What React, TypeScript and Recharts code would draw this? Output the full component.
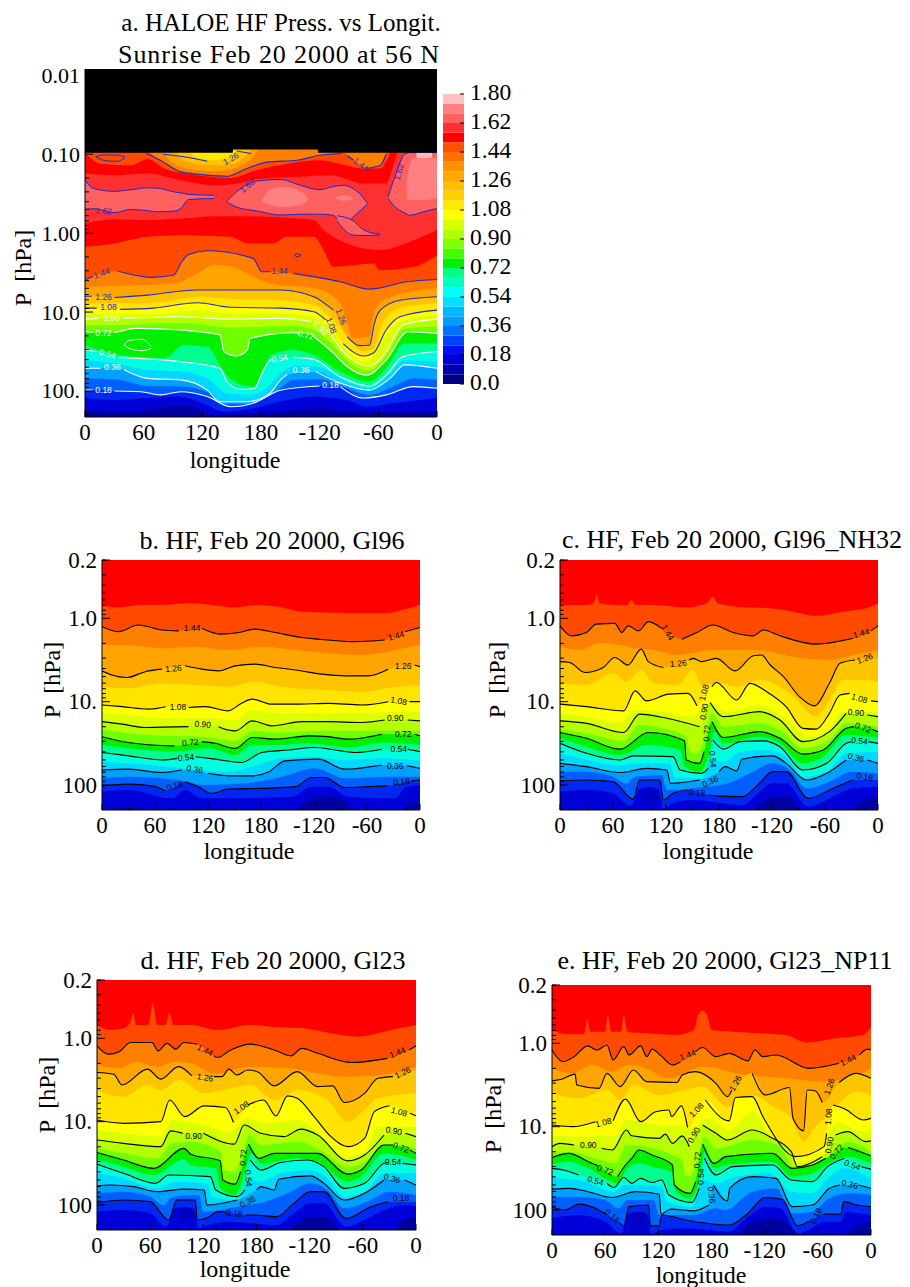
import React from 'react';
import { Area, Bar, BarChart, ComposedChart, Line, XAxis, YAxis } from 'recharts';

type Pt = [number, number | null];
type Blob = [number, number, number];
type Tag = [string, number, number, number];

// every series is [longitude, log10(pressure in hPa)]; null leaves a gap for a contour label

// ---- panel a: HALOE ----
const aBlack: Pt[] = [[0, -1.02], [151, -1.02], [151.5, -1.06], [238, -1.06], [238.5, -1.02], [360, -1.02]];
const aTop156: Pt[] = [[0, -.755], [30, -.734], [64, -.755], [98, -.67], [132, -.607], [156, -.63], [179, -.69], [217, -.713], [251, -.734], [285, -.63], [308, -.63], [317, -.924], [322, -1.08], [360, -1.08]];
const aTop150: Pt[] = [[0, -1.02], [16, -.88], [47, -.86], [64, -.94], [81, -.82], [115, -.734], [149, -.7], [176, -.8], [207, -.88], [240, -.924], [260, -.88], [285, -.82], [302, -.82], [310, -.96], [315, -1.08], [360, -1.08]];
const aTop144: Pt[] = [[0, -1.08], [61, -1.04], [77, -.924], [98, -.776], [121, -.74], [145, -.72], [162, -.8], [186, -.9], [217, -.924], [240, -.987], [264, -1.02], [275, -.924], [288, -.82], [302, -.86], [310, -1.04], [360, -1.08]];
const aTopLine144: Pt[] = [[63, -1.01], [77, -.924], [98, -.776], [121, -.74], [145, -.72], [162, -.8], [186, -.9], [217, -.924], [240, -.987], [262, -1.01]];
const aTopLine144b: Pt[] = [[268, -.98], [275, -.924], [282, null], [288, -.82], [302, -.86], [308, -1.0]];
const aTop135: Pt[] = [[0, -1.08], [77, -1.08], [88, -.9], [105, -.82], [132, -.785], [152, -.82], [172, -.966], [180, -1.08], [360, -1.08]];
const aTop126: Pt[] = [[0, -1.08], [90, -1.08], [100, -.924], [132, -.86], [152, -.88], [165, -.987], [172, -1.08], [360, -1.08]];
const aTop117: Pt[] = [[0, -1.08], [105, -1.08], [112, -.966], [132, -.924], [149, -.966], [158, -1.08], [360, -1.08]];
const aTopLine126: Pt[] = [[80, -1.0], [110, -.95], [125, -.91], [149, null], [155, -1.04], [170, -1.01]];
const aBlobLeft: Blob[] = [[0, -.67, -.3], [9, -.565, -.31], [30, -.53, -.26], [47, -.55, -.3], [64, -.574, -.285], [74, -.57, -.27], [91, -.523, -.28], [98, -.51, -.312], [106, -.49, -.426], [132, -.48, -.44]];
const aBlobMid: Blob[] = [[144.5, -.4, -.4], [155, -.523, -.33], [176, -.66, -.28], [200, -.68, -.23], [220, -.607, -.24], [240, -.55, -.24], [254, -.59, -.227], [264, -.607, -.1], [274, -.565, -.2], [281, -.5, -.28], [289, -.375, -.37]];
const aBlobTail: Blob[] = [[258, -.22, -.15], [274, -.16, .025], [285, -.04, .03], [302, .015, .025]];
const aBlobRight: Blob[] = [[310, -.46, -.44], [317, -.713, -.333], [327, -1.0, -.257], [332, -1.02, -.227], [346, -1.02, -.27], [360, -1.02, -.312]];
const aLightMid: Blob[] = [[181, -.42, -.4], [190, -.56, -.35], [205, -.586, -.33], [222, -.52, -.37], [228, -.44, -.42]];
const aLightMid2: Blob[] = [[256, -.45, -.44], [265, -.48, -.41], [274, -.45, -.43]];
const aLightRight: Blob[] = [[329, -.7, -.43], [336, -.95, -.42], [346, -.95, -.42], [360, -.95, -.45]];
const aPaleRight: Blob[] = [[339, -1.02, -.96], [345, -1.02, -.95], [355, -1.02, -.96]];
const aLoop162: Blob[] = [[11, -.97, -.97], [20, -.99, -.92], [32, -.99, -.91], [41, -.965, -.95]];
const aLoop144: Blob[] = [[214, .28, .28], [217, .26, .3], [221, .28, .28]];
const aLoop072: Blob[] = [[40, 1.42, 1.42], [45, 1.36, 1.46], [58, 1.345, 1.49], [68, 1.44, 1.46]];

const aLow156: Pt[] = [[0, -.122], [30, -.173], [64, -.164], [98, -.185], [132, -.215], [166, -.215], [200, -.198], [234, -.164], [244, -.04], [268, .13], [302, .215], [336, .09], [360, -.04]];
const a150: Pt[] = [[0, .173], [30, .13], [64, .047], [98, .026], [149, .047], [166, .13], [193, .13], [206, .047], [234, .047], [244, .215], [254, .427], [295, .384], [302, .47], [336, .427], [360, .279]];
const a144: Pt[] = [[0, .59], [8, .55], [17, null], [33, .48], [50, .53], [67, .56], [91, .53], [98, .38], [106, .27], [125, .224], [172, .32], [181, .49], [190, .49], [199, null], [213, .51], [261, .617], [291, .71], [329, .617], [360, .587]];
const a135: Pt[] = [[0, .68], [47, .66], [91, .637], [115, .51], [132, .405], [155, .447], [172, .553], [189, .637], [234, .7], [261, .89], [268, 1.14], [274, 1.333], [291, 1.31], [295, 1.02], [308, .83], [360, .7]];
const a126: Pt[] = [[0, .8], [7, .8], [19, null], [30, .815], [64, .785], [115, .72], [159, .72], [200, .72], [234, .806], [254, .975], [262, null], [268, 1.31], [281, 1.426], [291, 1.42], [296, 1.14], [302, .975], [322, .85], [360, .806]];
const a117: Pt[] = [[0, .89], [36, .89], [81, .87], [115, .806], [149, .83], [200, .85], [234, .91], [251, 1.06], [266, 1.27], [285, 1.5], [295, 1.46], [305, 1.12], [322, .95], [360, .89]];
const a108: Pt[] = [[0, .95], [12, .95], [24, null], [36, .966], [70, .95], [115, .882], [149, .94], [200, .95], [234, .996], [246, 1.1], [252, null], [264, 1.4], [285, 1.557], [295, 1.52], [308, 1.228], [322, 1.06], [360, .975]];
const a099: Pt[] = [[0, 1.02], [36, 1.02], [70, 1.03], [115, .975], [149, 1.02], [200, 1.02], [234, 1.06], [251, 1.207], [264, 1.44], [288, 1.63], [302, 1.4], [322, 1.12], [360, 1.04]];
const a090: Pt[] = [[0, 1.09], [14, 1.08], [27, null], [40, 1.08], [98, 1.06], [149, 1.09], [200, 1.08], [232, 1.12], [241, null], [251, 1.29], [264, 1.5], [291, 1.684], [308, 1.5], [325, 1.165], [360, 1.09]];
const a081: Pt[] = [[0, 1.165], [36, 1.165], [98, 1.14], [149, 1.195], [213, 1.177], [234, 1.228], [254, 1.42], [268, 1.61], [290, 1.743], [308, 1.557], [327, 1.207], [360, 1.186]];
const a072: Pt[] = [[0, 1.25], [8, 1.26], [19, null], [30, 1.262], [53, 1.207], [98, 1.228], [138, 1.29], [142, 1.5], [155, 1.557], [166, 1.48], [169, 1.333], [213, 1.262], [220, 1.27], [226, null], [234, 1.31], [254, 1.52], [268, 1.69], [288, 1.8], [308, 1.61], [330, 1.25], [360, 1.27]];
const a063: Pt[] = [[0, 1.42], [36, 1.545], [81, 1.585], [101, 1.42], [125, 1.44], [140, 1.713], [150, 1.86], [172, 1.945], [180, 1.84], [190, 1.545], [213, 1.48], [234, 1.545], [261, 1.755], [291, 1.88], [308, 1.713], [327, 1.4], [360, 1.4]];
const a054: Pt[] = [[0, 1.48], [12, 1.5], [23, null], [34, 1.575], [98, 1.63], [138, 1.713], [145, 1.88], [159, 1.98], [174, 1.965], [178, 1.86], [189, 1.61], [192, 1.6], [199, null], [213, 1.575], [234, 1.6], [261, 1.82], [291, 1.937], [308, 1.8], [325, 1.565], [360, 1.5]];
const a045: Pt[] = [[0, 1.61], [30, 1.65], [64, 1.735], [104, 1.755], [128, 1.86], [145, 2.03], [169, 2.05], [189, 1.925], [200, 1.775], [217, 1.684], [240, 1.7], [264, 1.86], [291, 1.965], [312, 1.775], [327, 1.61], [360, 1.63]];
const a036: Pt[] = [[0, 1.713], [16, 1.713], [28, null], [40, 1.73], [64, 1.84], [98, 1.86], [125, 1.99], [138, 2.135], [166, 2.135], [189, 2.03], [200, 1.86], [207, 1.79], [221, null], [236, 1.755], [261, 1.9], [291, 1.99], [312, 1.84], [327, 1.67], [360, 1.713]];
const a027: Pt[] = [[0, 1.84], [36, 1.86], [64, 1.937], [98, 1.945], [128, 2.03], [142, 2.165], [166, 2.165], [193, 2.03], [213, 1.86], [240, 1.85], [264, 1.945], [291, 2.05], [315, 1.945], [336, 1.84], [360, 1.86]];
const a018: Pt[] = [[0, 1.99], [8, 1.99], [19, null], [30, 2.0], [57, 2.01], [77, 2.05], [98, 2.01], [125, 2.07], [149, 2.2], [172, 2.155], [200, 1.99], [240, 1.937], [251, null], [261, 1.945], [285, 2.09], [308, 2.05], [336, 1.945], [360, 1.965]];
const a009: Pt[] = [[0, 2.09], [30, 2.115], [64, 2.09], [94, 2.07], [121, 2.155], [142, 2.26], [172, 2.22], [200, 2.135], [234, 2.07], [268, 2.115], [288, 2.2], [315, 2.155], [360, 2.09]];
const a003: Pt[] = [[0, 2.24], [47, 2.26], [98, 2.18], [111, 2.2], [125, 2.3], [183, 2.28], [240, 2.22], [268, 2.26], [360, 2.26]];
const aTags: Tag[] = [
  ['1.26', 149, -.945, -30], ['1.44', 282, -.87, 40], ['1.62', 166, -.6, -40], ['1.62', 321, -.776, -75], ['1.62', 19, -.28, 5],
  ['1.44', 17, .51, -20], ['1.44', 199, .48, 0], ['1.26', 19, .806, 0], ['1.08', 24, .94, 0], ['0.90', 27, 1.075, 0],
  ['0.72', 19, 1.26, 0], ['0.54', 23, 1.53, 15], ['0.36', 28, 1.7, 0], ['0.18', 19, 1.99, 0], ['0.54', 199, 1.585, -10],
  ['0.72', 226, 1.29, 15], ['0.90', 241, 1.2, 45], ['1.08', 252, 1.17, 70], ['1.26', 262, 1.06, 70], ['0.36', 221, 1.735, 0], ['0.18', 251, 1.925, 0],
];

// ---- panel b: Gl96 ----
const b150: Pt[] = [[0, -.16], [19, -.13], [41, -.16], [68, -.16], [98, -.18], [124, -.16], [151, -.13], [173, -.16], [200, -.14], [226, -.08], [256, -.07], [294, -.06], [320, -.06], [343, -.11], [360, -.16]];
const b144: Pt[] = [[0, .1], [19, .16], [41, .08], [68, .14], [87, .15], [102, null], [113, .12], [134, .19], [155, .17], [173, .13], [196, .17], [226, .23], [256, .26], [287, .28], [320, .26], [333, null], [343, .16], [360, .11]];
const b135: Pt[] = [[0, .32], [30, .32], [68, .36], [106, .34], [143, .38], [181, .34], [219, .38], [256, .42], [294, .44], [332, .38], [360, .32]];
const b126: Pt[] = [[0, .63], [11, .68], [28, .71], [49, .64], [68, .61], [81, null], [94, .57], [113, .61], [132, .63], [151, .57], [173, .55], [196, .59], [219, .62], [249, .67], [275, .69], [301, .69], [324, .61], [341, null], [354, .56], [360, .58]];
const b117: Pt[] = [[0, .82], [30, .84], [68, .78], [106, .8], [143, .82], [173, .76], [204, .82], [256, .86], [294, .88], [332, .82], [360, .8]];
const b108: Pt[] = [[0, 1.04], [23, 1.06], [53, 1.09], [72, 1.06], [86, null], [98, 1.07], [117, 1.06], [143, 1.11], [158, 1.02], [170, .97], [192, 1.03], [219, 1.03], [256, 1.02], [294, 1.04], [324, 1.0], [336, null], [348, 1.0], [360, 1.0]];
const b099: Pt[] = [[0, 1.14], [30, 1.16], [68, 1.2], [113, 1.2], [151, 1.22], [170, 1.1], [200, 1.14], [256, 1.14], [320, 1.13], [360, 1.12]];
const b090: Pt[] = [[0, 1.24], [23, 1.27], [49, 1.31], [98, 1.3], [114, null], [132, 1.3], [143, 1.34], [151, 1.35], [170, 1.23], [192, 1.29], [226, 1.24], [256, 1.24], [294, 1.25], [320, 1.22], [332, null], [346, 1.22], [360, 1.23]];
const b081: Pt[] = [[0, 1.33], [30, 1.38], [68, 1.41], [113, 1.42], [151, 1.47], [172, 1.35], [196, 1.37], [256, 1.35], [320, 1.35], [360, 1.35]];
const b072: Pt[] = [[0, 1.42], [30, 1.49], [57, 1.52], [82, 1.53], [100, null], [113, 1.48], [128, 1.5], [151, 1.56], [170, 1.43], [196, 1.45], [234, 1.41], [256, 1.42], [279, 1.45], [317, 1.39], [341, null], [354, 1.39], [360, 1.41]];
const b063: Pt[] = [[0, 1.52], [30, 1.56], [81, 1.6], [121, 1.56], [151, 1.64], [170, 1.52], [200, 1.52], [234, 1.5], [279, 1.55], [320, 1.49], [360, 1.52]];
const b054: Pt[] = [[0, 1.61], [30, 1.65], [68, 1.7], [85, 1.68], [95, null], [106, 1.66], [128, 1.69], [158, 1.73], [181, 1.61], [211, 1.58], [241, 1.55], [264, 1.58], [286, 1.61], [317, 1.57], [336, null], [346, 1.57], [360, 1.6]];
const b045: Pt[] = [[0, 1.72], [30, 1.74], [75, 1.78], [143, 1.84], [170, 1.78], [204, 1.68], [241, 1.66], [275, 1.7], [317, 1.68], [360, 1.71]];
const b036: Pt[] = [[0, 1.82], [30, 1.81], [68, 1.85], [90, 1.82], [105, null], [120, 1.86], [143, 1.89], [170, 1.89], [189, 1.84], [207, 1.71], [245, 1.69], [275, 1.81], [317, 1.76], [332, null], [345, 1.77], [360, 1.8]];
const b027: Pt[] = [[0, 1.92], [30, 1.9], [87, 1.94], [117, 2.0], [162, 1.98], [204, 1.9], [241, 1.8], [275, 1.92], [320, 1.9], [360, 1.9]];
const b018: Pt[] = [[0, 2.01], [30, 1.99], [56, 2.01], [72, 2.07], [82, null], [94, 1.96], [109, 2.02], [124, 2.1], [143, 2.05], [181, 2.04], [219, 2.02], [237, 1.91], [252, 1.91], [275, 2.03], [301, 2.02], [324, 2.01], [339, null], [350, 1.95], [360, 1.94]];
const b009: Pt[] = [[0, 2.08], [30, 2.06], [79, 2.16], [94, 2.06], [113, 2.16], [143, 2.16], [215, 2.14], [237, 2.02], [256, 2.02], [279, 2.14], [332, 2.16], [343, 2.03], [360, 2.0]];
const b003: Pt[] = [[0, 2.3], [30, 2.26], [60, 2.3], [220, 2.3], [230, 2.2], [250, 2.14], [270, 2.16], [285, 2.3], [340, 2.3], [348, 2.22], [360, 2.2]];
const bTags: Tag[] = [
  ['1.44', 102, .11, 0], ['1.44', 333, .21, -15], ['1.26', 81, .6, -5], ['1.26', 341, .57, 0], ['1.08', 86, 1.06, 0], ['1.08', 336, .99, 10],
  ['0.90', 114, 1.27, 5], ['0.90', 332, 1.2, 0], ['0.72', 100, 1.49, -5], ['0.72', 341, 1.39, 0], ['0.54', 95, 1.67, -5], ['0.54', 336, 1.57, 0],
  ['0.36', 105, 1.81, 10], ['0.36', 332, 1.77, 0], ['0.18', 82, 2.01, -15], ['0.18', 339, 1.96, -5],
];

// ---- panel c: Gl96_NH32 ----
const c150: Pt[] = [[0, -.16], [30, -.16], [38, -.18], [41.5, -.28], [45, -.18], [64, -.16], [76, -.16], [81, -.22], [85, -.16], [106, -.16], [143, -.13], [166, -.18], [173, -.26], [179, -.18], [200, -.14], [238, -.12], [264, -.08], [290, -.03], [320, -.08], [347, -.12], [360, -.18]];
const c144: Pt[] = [[0, .09], [13, .21], [30, .17], [41, .07], [62, .06], [70, .17], [77, .09], [89, .15], [100, .04], [115, .12], [122, null], [138, .25], [155, .17], [173, .08], [196, .17], [219, .21], [230, .14], [249, .21], [290, .31], [332, .24], [341, null], [352, .15], [360, .09]];
const c135: Pt[] = [[0, .34], [23, .38], [45, .3], [68, .32], [85, .36], [106, .38], [132, .44], [173, .38], [219, .38], [275, .48], [305, .5], [332, .44], [360, .38]];
const c126: Pt[] = [[0, .52], [11, .53], [28, .65], [49, .59], [62, .47], [77, .56], [92, .37], [100, .52], [117, .59], [124, null], [146, .5], [151, .48], [160, .52], [177, .48], [198, .63], [219, .45], [228, .44], [238, .56], [253, .7], [271, .94], [288, 1.05], [305, .78], [317, .54], [334, .5], [345, null], [360, .48]];
const c117: Pt[] = [[0, .78], [30, .8], [60, .66], [75, .76], [92, .62], [106, .78], [132, .8], [151, .62], [160, .8], [181, .78], [200, .82], [226, .74], [260, .9], [290, 1.18], [305, .98], [320, .74], [345, .74], [360, .76]];
const c108: Pt[] = [[0, 1.03], [30, 1.06], [72, 1.11], [85, .87], [98, .99], [123, .91], [145, .9], [155, 1.05], [159, null], [172, .82], [177, .77], [200, .98], [215, .78], [234, .88], [256, 1.06], [275, 1.32], [290, 1.33], [305, 1.14], [317, .92], [328, .9], [339, null], [352, .99], [360, 1.0]];
const c099: Pt[] = [[0, 1.14], [30, 1.18], [68, 1.26], [85, 1.1], [117, 1.12], [151, 1.18], [166, 1.02], [190, 1.12], [226, 1.04], [256, 1.22], [283, 1.42], [305, 1.32], [320, 1.12], [360, 1.12]];
const c090: Pt[] = [[0, 1.23], [30, 1.26], [72, 1.37], [90, 1.15], [121, 1.2], [158, 1.3], [163, null], [170, 1.01], [185, 1.18], [226, 1.12], [249, 1.22], [275, 1.48], [305, 1.36], [324, 1.14], [335, null], [348, 1.16], [360, 1.18]];
const c081: Pt[] = [[0, 1.33], [30, 1.38], [72, 1.47], [90, 1.28], [121, 1.33], [143, 1.42], [147, 1.6], [155, 1.62], [165, 1.4], [172, 1.14], [185, 1.3], [226, 1.26], [249, 1.34], [275, 1.56], [305, 1.46], [324, 1.26], [360, 1.3]];
const c072: Pt[] = [[0, 1.37], [30, 1.44], [68, 1.57], [100, 1.37], [141, 1.47], [143, 1.7], [158, 1.74], [163, 1.6], [166, null], [172, 1.24], [185, 1.43], [226, 1.36], [249, 1.44], [275, 1.63], [298, 1.58], [324, 1.32], [333, 1.3], [343, null], [353, 1.33], [360, 1.36]];
const c063: Pt[] = [[0, 1.44], [30, 1.54], [68, 1.64], [98, 1.52], [136, 1.58], [141, 1.78], [158, 1.84], [170, 1.58], [175, 1.36], [185, 1.5], [226, 1.42], [249, 1.5], [275, 1.74], [298, 1.66], [324, 1.4], [360, 1.44]];
const c054: Pt[] = [[0, 1.5], [30, 1.62], [68, 1.7], [83, 1.65], [128, 1.66], [136, 1.82], [160, 1.86], [168, 1.8], [170, null], [173, 1.46], [185, 1.57], [204, 1.48], [230, 1.47], [249, 1.54], [275, 1.82], [302, 1.74], [324, 1.5], [330, 1.48], [339, null], [349, 1.48], [360, 1.5]];
const c045: Pt[] = [[0, 1.62], [30, 1.7], [68, 1.76], [90, 1.74], [124, 1.74], [130, 1.9], [160, 1.92], [172, 1.7], [185, 1.72], [204, 1.6], [234, 1.58], [256, 1.66], [275, 1.9], [302, 1.84], [324, 1.62], [360, 1.6]];
const c036: Pt[] = [[0, 1.74], [30, 1.78], [68, 1.85], [98, 1.8], [121, 1.82], [125, 1.98], [158, 1.94], [168, null], [180, 1.84], [187, 1.78], [200, 1.83], [206, 1.69], [241, 1.65], [256, 1.74], [279, 1.94], [305, 1.84], [324, 1.7], [335, null], [348, 1.7], [360, 1.74]];
const c027: Pt[] = [[0, 1.84], [30, 1.84], [60, 1.9], [75, 1.98], [85, 1.9], [115, 1.88], [121, 2.06], [158, 2.03], [190, 1.98], [215, 1.86], [241, 1.74], [260, 1.82], [279, 2.04], [305, 1.96], [330, 1.84], [360, 1.86]];
const c018: Pt[] = [[0, 1.95], [30, 1.94], [60, 1.96], [83, 2.17], [90, 1.94], [113, 1.94], [117, 2.18], [128, 2.1], [145, 2.06], [155, null], [168, 2.12], [177, 2.13], [207, 2.14], [222, 2.02], [241, 1.84], [256, 1.84], [281, 2.16], [309, 2.04], [332, 1.94], [345, null], [360, 1.94]];
const c009: Pt[] = [[0, 2.08], [30, 2.06], [60, 2.1], [80, 2.25], [90, 2.05], [100, 2.02], [112, 2.05], [117, 2.28], [128, 2.22], [150, 2.18], [207, 2.24], [222, 2.12], [241, 1.98], [256, 1.98], [281, 2.26], [309, 2.14], [332, 2.04], [360, 2.02]];
const c003: Pt[] = [[0, 2.3], [215, 2.3], [225, 2.24], [240, 2.14], [258, 2.14], [275, 2.3], [330, 2.3], [340, 2.2], [360, 2.14]];
const cPatch: Blob[] = [[92, 2.1, 2.16], [98, 2.06, 2.2], [108, 2.06, 2.2], [112, 2.12, 2.16]];
const cTags: Tag[] = [
  ['1.44', 122, .17, 60], ['1.44', 341, .18, -15], ['1.26', 134, .54, -5], ['1.26', 345, .48, -20], ['1.08', 163, .89, -75], ['1.08', 339, .96, 15],
  ['0.90', 163, 1.12, -80], ['0.90', 335, 1.13, 5], ['0.72', 166, 1.38, -85], ['0.72', 343, 1.31, 20], ['0.54', 173, 1.69, 85], ['0.54', 339, 1.47, 5],
  ['0.36', 170, 1.96, -25], ['0.36', 335, 1.67, 15], ['0.18', 155, 2.09, 5], ['0.18', 345, 1.9, 10],
];

// ---- panel d: Gl23 ----
const d150: Pt[] = [[0, -.16], [15, -.1], [30, -.12], [37, -.18], [41, -.3], [44, -.16], [58, -.16], [63, -.42], [68, -.16], [77, -.16], [82, -.3], [86, -.16], [106, -.16], [136, -.1], [173, -.16], [196, -.14], [234, -.12], [264, -.06], [294, -.02], [332, -.1], [360, -.16]];
const d144: Pt[] = [[0, .09], [13, .19], [25, .16], [38, .05], [62, .05], [69, .15], [79, .06], [89, .13], [98, .05], [113, .07], [122, null], [132, .21], [136, .23], [151, .14], [173, .07], [200, .14], [219, .21], [231, .12], [249, .18], [287, .29], [328, .24], [339, null], [352, .14], [360, .09]];
const d135: Pt[] = [[0, .32], [23, .36], [45, .28], [68, .34], [90, .28], [106, .3], [132, .42], [173, .34], [215, .36], [279, .46], [320, .44], [360, .34]];
const d126: Pt[] = [[0, .41], [19, .43], [28, .56], [57, .37], [72, .49], [92, .34], [107, .45], [114, null], [132, .46], [141, .46], [149, .37], [158, .44], [170, .38], [181, .4], [200, .57], [226, .4], [249, .58], [266, .57], [279, .77], [302, .66], [317, .48], [334, .46], [345, null], [360, .38]];
const d117: Pt[] = [[0, .62], [30, .7], [57, .56], [72, .62], [92, .5], [121, .66], [151, .6], [173, .56], [200, .74], [226, .62], [260, .74], [283, 1.0], [302, .86], [317, .72], [360, .66]];
const d108: Pt[] = [[0, .98], [30, 1.02], [72, 1.0], [82, .74], [99, .94], [121, .81], [145, .83], [154, 1.01], [158, null], [170, .8], [188, .74], [202, .93], [215, .69], [226, .72], [245, .94], [264, 1.18], [283, 1.3], [302, 1.2], [313, .88], [330, .81], [341, null], [353, .9], [360, .93]];
const d099: Pt[] = [[0, 1.1], [30, 1.14], [72, 1.18], [85, .98], [121, 1.04], [150, 1.12], [170, .96], [190, 1.02], [226, .98], [250, 1.14], [280, 1.42], [302, 1.36], [317, 1.06], [360, 1.06]];
const d090: Pt[] = [[0, 1.22], [30, 1.26], [72, 1.3], [83, 1.11], [97, 1.14], [109, null], [120, 1.14], [155, 1.27], [166, 1.04], [185, 1.14], [211, 1.18], [230, 1.09], [249, 1.16], [283, 1.47], [302, 1.4], [324, 1.16], [335, null], [348, 1.14], [360, 1.18]];
const d081: Pt[] = [[0, 1.32], [30, 1.38], [68, 1.44], [85, 1.26], [106, 1.24], [140, 1.36], [143, 1.58], [155, 1.6], [165, 1.36], [172, 1.16], [185, 1.28], [226, 1.24], [249, 1.32], [283, 1.54], [302, 1.48], [324, 1.28], [360, 1.32]];
const d072: Pt[] = [[0, 1.37], [30, 1.46], [64, 1.56], [98, 1.32], [106, 1.39], [139, 1.47], [142, 1.7], [156, 1.75], [162, 1.6], [165, null], [171, 1.27], [183, 1.44], [200, 1.38], [249, 1.38], [283, 1.63], [298, 1.58], [324, 1.28], [334, 1.28], [343, null], [353, 1.34], [360, 1.38]];
const d063: Pt[] = [[0, 1.45], [30, 1.54], [64, 1.64], [98, 1.45], [106, 1.52], [134, 1.56], [139, 1.8], [156, 1.88], [168, 1.56], [174, 1.38], [185, 1.5], [226, 1.44], [249, 1.48], [283, 1.72], [298, 1.66], [324, 1.38], [360, 1.46]];
const d054: Pt[] = [[0, 1.51], [30, 1.62], [66, 1.74], [81, 1.64], [128, 1.66], [134, 1.82], [158, 1.9], [167, 1.82], [170, null], [173, 1.46], [185, 1.58], [207, 1.49], [238, 1.46], [256, 1.54], [279, 1.8], [302, 1.74], [324, 1.5], [329, 1.49], [334, null], [345, 1.5], [360, 1.52]];
const d045: Pt[] = [[0, 1.62], [30, 1.68], [66, 1.8], [90, 1.72], [124, 1.74], [130, 1.9], [158, 1.94], [172, 1.7], [185, 1.72], [207, 1.62], [241, 1.58], [260, 1.68], [279, 1.9], [302, 1.84], [324, 1.62], [360, 1.62]];
const d036: Pt[] = [[0, 1.77], [15, 1.76], [41, 1.78], [68, 1.84], [98, 1.81], [121, 1.82], [124, 2.0], [158, 1.94], [168, null], [180, 1.82], [185, 1.78], [200, 1.82], [205, 1.69], [241, 1.65], [256, 1.74], [279, 1.94], [305, 1.84], [324, 1.7], [333, null], [347, 1.7], [360, 1.76]];
const d027: Pt[] = [[0, 1.86], [30, 1.84], [60, 1.9], [75, 2.0], [85, 1.9], [115, 1.88], [120, 2.08], [158, 2.02], [190, 1.96], [215, 1.86], [241, 1.74], [260, 1.82], [279, 2.04], [305, 1.96], [330, 1.84], [360, 1.88]];
const d018: Pt[] = [[0, 1.97], [30, 1.94], [60, 1.96], [81, 2.18], [90, 1.94], [111, 1.94], [113, 2.18], [123, 2.16], [137, 2.08], [145, 2.08], [155, null], [168, 2.12], [177, 2.12], [203, 2.14], [222, 1.98], [241, 1.84], [256, 1.84], [281, 2.16], [309, 2.02], [328, 1.96], [343, null], [360, 1.96]];
const d009: Pt[] = [[0, 2.08], [30, 2.06], [60, 2.1], [78, 2.26], [88, 2.04], [100, 2.02], [110, 2.06], [114, 2.28], [125, 2.24], [150, 2.2], [203, 2.24], [222, 2.1], [241, 1.98], [256, 1.98], [281, 2.26], [309, 2.14], [330, 2.04], [345, 2.0], [360, 2.02]];
const d003: Pt[] = [[0, 2.3], [215, 2.3], [225, 2.22], [240, 2.14], [258, 2.14], [275, 2.3], [335, 2.3], [345, 2.18], [360, 2.14]];
const dPatch: Blob[] = [[92, 2.08, 2.14], [98, 2.04, 2.18], [108, 2.04, 2.18]];
const dTags: Tag[] = [
  ['1.44', 122, .14, 25], ['1.44', 339, .17, -20], ['1.26', 122, .47, 10], ['1.26', 345, .41, -25], ['1.08', 163, .83, -35], ['1.08', 341, .88, 15],
  ['0.90', 109, 1.17, 0], ['0.90', 335, 1.11, 10], ['0.72', 165, 1.43, -85], ['0.72', 343, 1.31, 20], ['0.54', 171, 1.68, 85], ['0.54', 334, 1.48, 0],
  ['0.36', 170, 1.96, -25], ['0.36', 333, 1.68, 15], ['0.18', 155, 2.1, 5], ['0.18', 343, 1.92, 0],
];

// ---- panel e: Gl23_NP11 ----
const e150: Pt[] = [[0, -.16], [15, -.11], [36, -.11], [40, -.29], [43, -.14], [60, -.14], [63, -.33], [67, -.14], [78, -.14], [81, -.34], [85, -.14], [106, -.12], [139, -.1], [160, -.16], [165, -.34], [170, -.39], [175, -.34], [180, -.16], [204, -.14], [234, -.12], [264, -.1], [287, -.01], [320, -.06], [351, -.1], [360, -.2]];
const e144: Pt[] = [[0, .08], [12, .22], [25, .16], [40, .03], [51, .08], [62, .02], [69, .2], [81, .04], [87, .14], [100, .03], [107, .16], [113, .07], [122, .14], [136, .26], [145, .22], [153, null], [162, .1], [170, .05], [185, .16], [200, .12], [221, .21], [229, .08], [238, .16], [253, .14], [290, .3], [324, .24], [334, null], [347, .14], [356, .07], [360, .08]];
const e135: Pt[] = [[0, .3], [23, .36], [45, .26], [68, .34], [87, .26], [106, .3], [132, .42], [170, .28], [219, .38], [264, .42], [305, .46], [340, .4], [360, .3]];
const e126: Pt[] = [[0, .45], [11, .43], [26, .37], [28, .5], [53, .54], [62, .36], [77, .52], [92, .32], [107, .46], [141, .47], [147, .38], [162, .34], [185, .48], [198, .64], [203, .56], [207, null], [226, .36], [241, .62], [268, .53], [272, .9], [284, 1.05], [288, .56], [297, .57], [305, .71], [310, null], [324, .47], [343, .36], [360, .42]];
const e117: Pt[] = [[0, .6], [30, .66], [62, .56], [77, .68], [92, .5], [121, .62], [150, .56], [170, .52], [198, .76], [226, .62], [250, .76], [270, .9], [284, 1.18], [297, 1.0], [310, .88], [324, .72], [343, .58], [360, .62]];
const e108: Pt[] = [[0, .98], [23, 1.0], [49, .94], [58, null], [69, .93], [83, .67], [100, .94], [117, .82], [132, .8], [135, .88], [146, .75], [153, 1.01], [157, null], [173, .68], [200, .93], [207, .65], [226, .64], [238, .88], [275, 1.36], [307, 1.24], [310, 1.08], [313, null], [317, .74], [324, .76], [331, .79], [351, .92], [360, .9]];
const e099: Pt[] = [[0, 1.1], [30, 1.12], [73, 1.1], [83, .92], [121, .98], [150, 1.0], [160, 1.02], [175, .9], [200, 1.04], [226, .82], [245, 1.1], [275, 1.42], [307, 1.34], [313, 1.06], [324, .96], [351, 1.06], [360, 1.04]];
const e090: Pt[] = [[0, 1.24], [9, 1.2], [25, 1.22], [41, null], [56, 1.26], [68, 1.28], [84, 1.04], [90, 1.11], [121, 1.14], [128, 1.09], [136, 1.2], [147, 1.11], [155, 1.24], [161, null], [170, .98], [185, 1.08], [198, 1.16], [226, 1.04], [249, 1.14], [270, 1.3], [277, 1.48], [305, 1.36], [313, null], [320, 1.1], [334, 1.06], [354, 1.18], [360, 1.17]];
const e081: Pt[] = [[0, 1.32], [20, 1.3], [56, 1.4], [72, 1.44], [84, 1.22], [121, 1.28], [136, 1.34], [147, 1.4], [150, 1.56], [155, 1.6], [165, 1.36], [172, 1.12], [185, 1.26], [226, 1.16], [255, 1.22], [277, 1.54], [305, 1.46], [320, 1.26], [334, 1.18], [360, 1.3]];
const e072: Pt[] = [[0, 1.37], [19, 1.32], [41, 1.42], [52, 1.47], [60, null], [74, 1.6], [83, 1.46], [90, 1.38], [98, 1.28], [113, 1.34], [136, 1.46], [138, 1.7], [156, 1.8], [162, 1.66], [165, null], [170, 1.21], [183, 1.44], [196, 1.36], [249, 1.32], [271, 1.5], [294, 1.46], [309, 1.38], [320, null], [334, 1.25], [360, 1.35]];
const e063: Pt[] = [[0, 1.45], [19, 1.42], [41, 1.5], [74, 1.68], [85, 1.5], [98, 1.44], [113, 1.48], [134, 1.54], [140, 1.78], [156, 1.86], [168, 1.56], [172, 1.3], [183, 1.5], [196, 1.46], [249, 1.42], [271, 1.6], [294, 1.56], [309, 1.46], [334, 1.36], [360, 1.44]];
const e054: Pt[] = [[0, 1.5], [13, 1.52], [30, 1.58], [49, null], [62, 1.68], [70, 1.73], [81, 1.61], [90, 1.68], [100, 1.62], [113, 1.67], [124, 1.64], [132, 1.82], [158, 1.91], [166, 1.74], [168, null], [172, 1.38], [185, 1.58], [204, 1.48], [249, 1.46], [270, 1.64], [294, 1.66], [311, 1.48], [330, 1.38], [339, null], [349, 1.48], [360, 1.51]];
const e045: Pt[] = [[0, 1.62], [30, 1.64], [70, 1.78], [81, 1.7], [100, 1.7], [124, 1.72], [130, 1.9], [158, 1.96], [170, 1.64], [185, 1.68], [207, 1.6], [245, 1.56], [270, 1.78], [294, 1.8], [311, 1.62], [330, 1.5], [360, 1.62]];
const e036: Pt[] = [[0, 1.75], [19, 1.74], [41, 1.78], [68, 1.85], [94, 1.78], [121, 1.81], [123, 2.05], [134, 1.99], [160, 2.01], [177, 1.94], [180, null], [182, 1.7], [198, 1.89], [200.5, 1.74], [226, 1.6], [253, 1.62], [271, 1.96], [294, 1.94], [313, 1.74], [325, 1.7], [336, null], [346, 1.7], [360, 1.74]];
const e027: Pt[] = [[0, 1.84], [30, 1.84], [60, 1.88], [75, 1.98], [85, 1.88], [115, 1.88], [121, 2.06], [160, 2.06], [185, 1.98], [195, 2.0], [226, 1.78], [253, 1.74], [271, 2.04], [294, 2.02], [313, 1.86], [336, 1.8], [360, 1.82]];
const e018: Pt[] = [[0, 1.96], [15, 2.0], [30, 1.93], [53, 2.0], [61, 2.05], [68, null], [76, 2.15], [81, 2.19], [87, 1.96], [109, 1.94], [111, 2.19], [121, 2.19], [124, 2.06], [151, 2.12], [200, 2.18], [219, 2.06], [241, 1.85], [260, 1.87], [277, 2.19], [291, 2.13], [298, null], [306, 2.05], [326, 2.05], [329, 1.9], [345, 1.94], [360, 1.96]];
const e009: Pt[] = [[0, 2.1], [30, 2.06], [60, 2.14], [78, 2.28], [86, 2.04], [100, 2.02], [108, 2.06], [112, 2.28], [125, 2.24], [150, 2.22], [200, 2.26], [219, 2.1], [241, 1.96], [258, 1.98], [277, 2.28], [310, 2.14], [326, 2.14], [332, 2.02], [345, 2.04], [360, 2.06]];
const e003: Pt[] = [[0, 2.3], [210, 2.3], [222, 2.16], [245, 2.1], [262, 2.14], [282, 2.3], [330, 2.3], [345, 2.18], [360, 2.14]];
const ePatch: Blob[] = [[90, 2.04, 2.16], [96, 2.02, 2.2], [106, 2.04, 2.2]];
const eTags: Tag[] = [
  ['1.44', 153, .14, -20], ['1.44', 334, .2, -25], ['1.26', 207, .48, -60], ['1.26', 313, .52, -70], ['1.08', 58, .95, -15], ['1.08', 163, .8, -45], ['1.08', 312, .88, -85],
  ['0.90', 41, 1.22, 0], ['0.90', 160, 1.1, -60], ['0.90', 313, 1.22, -80], ['0.72', 60, 1.52, 20], ['0.72', 164, 1.4, -85], ['0.72', 321, 1.3, -50],
  ['0.54', 49, 1.65, 15], ['0.54', 168, 1.6, -88], ['0.54', 339, 1.46, 20], ['0.36', 180, 1.82, 85], ['0.36', 336, 1.69, 15], ['0.18', 68, 2.07, 40], ['0.18', 298, 2.07, -65],
];

// colour of the region just below each boundary, same order as the panel lists
const bandColors = ['#ff4a00', '#ff8000', '#ffa400', '#ffc400', '#ffe400', '#ffff00', '#dcff00', '#b4ff00', '#70ff00', '#00f000', '#00ff90', '#00ffe0', '#00d8ff', '#00a0ff', '#0060ff', '#0028f0', '#0000d8', '#0000a0'];
const contourSlots = [1, 3, 5, 7, 9, 11, 13, 15];

const panelA = [a150, a144, a135, a126, a117, a108, a099, a090, a081, a072, a063, a054, a045, a036, a027, a018, a009, a003];
const panelB = [b150, b144, b135, b126, b117, b108, b099, b090, b081, b072, b063, b054, b045, b036, b027, b018, b009, b003];
const panelC = [c150, c144, c135, c126, c117, c108, c099, c090, c081, c072, c063, c054, c045, c036, c027, c018, c009, c003];
const panelD = [d150, d144, d135, d126, d117, d108, d099, d090, d081, d072, d063, d054, d045, d036, d027, d018, d009, d003];
const panelE = [e150, e144, e135, e126, e117, e108, e099, e090, e081, e072, e063, e054, e045, e036, e027, e018, e009, e003];

// colour bar
const scaleColors = ['#000080', '#0000a8', '#0000d0', '#0010f0', '#0040ff', '#0070ff', '#009cff', '#00b8ff', '#00e0ff', '#00ffff', '#00ffc0', '#00ff80', '#00f000', '#40ff00', '#80ff00', '#b0ff00', '#d8ff00', '#ffff00', '#ffe800', '#ffd000', '#ffc000', '#ffa800', '#ff9000', '#ff7000', '#ff5000', '#ff0000', '#ff3030', '#ff6060', '#ff8080', '#ffc0c0'];
const scaleTicks = [0, .18, .36, .54, .72, .9, 1.08, 1.26, 1.44, 1.62, 1.8];
const scaleLabels = ['0.0', '0.18', '0.36', '0.54', '0.72', '0.90', '1.08', '1.26', '1.44', '1.62', '1.80'];
const scaleRow: Record<string, number | string> = { name: 'HF' };
scaleColors.forEach((_, i) => { scaleRow[`s${i}`] = 0.06; });

const lonTicks = [0, 60, 120, 180, 240, 300, 360];
const lonLabels = ['0', '60', '120', '180', '-120', '-60', '0'];
const logMinor = [.301, .477, .602, .699, .778, .845, .903, .954];
const SERIF = '"Liberation Serif", serif';
const LEFT = 70;
const BLUE = '#1a2ac8';

const rows = (pts: Pt[]) => pts.map(([lon, logP]) => ({ lon, logP }));
const solid = (pts: Pt[]) => rows(pts.filter((p) => p[1] !== null));
const rangeRows = (pts: Blob[]) => pts.map(([lon, top, bottom]) => ({ lon, logP: [top, bottom] }));

const fill = (key: string, pts: Pt[], color: string, base: number, type: any = 'monotoneX') => (
  <Area key={key} data={solid(pts)} dataKey="logP" type={type} baseValue={base} fill={color} fillOpacity={1}
    stroke="none" dot={false} activeDot={false} isAnimationActive={false} />
);
const blob = (key: string, pts: Blob[], color: string, stroke = 'none') => (
  <Area key={key} data={rangeRows(pts)} dataKey="logP" type="monotoneX" fill={color} fillOpacity={color === 'none' ? 0 : 1}
    stroke={stroke} strokeWidth={1} dot={false} activeDot={false} isAnimationActive={false} />
);
const contour = (key: string, pts: Pt[], color: string) => (
  <Line key={key} data={rows(pts)} dataKey="logP" type="monotoneX" stroke={color} strokeWidth={1.1}
    dot={false} activeDot={false} isAnimationActive={false} />
);
const tagLayer = (tags: Tag[], colorOf: (t: string) => string) => (
  <Line key="tags" data={tags.map(([text, lon, logP, angle]) => ({ text, lon, logP, angle }))} dataKey="logP" stroke="none"
    activeDot={false} isAnimationActive={false}
    dot={(p: any) => (
      <text key={p.index} x={p.cx} y={p.cy} textAnchor="middle" dominantBaseline="central" fontSize={8.5}
        fontFamily='"Liberation Sans", sans-serif' fill={colorOf(p.payload.text)}
        transform={`rotate(${p.payload.angle} ${p.cx} ${p.cy})`}>{p.payload.text}</text>
    )} />
);

function Caption({ x, y, rotate = 0, size = 24, spacing = 0, children }: any) {
  return (
    <div style={{ position: 'absolute', left: x, top: y, transform: `translate(-50%,-50%) rotate(${rotate}deg)`,
      whiteSpace: 'pre', fontFamily: SERIF, fontSize: size, letterSpacing: spacing, lineHeight: 1, color: '#000' }}>{children}</div>
  );
}

function Panel({ box, domain, labels, minorStep, yFont = 23, layers }: any) {
  const { x, y, w, h } = box;
  const majors = Object.keys(labels).map(Number);
  const first = Math.floor(domain[0]);
  const yTicks: number[] = [...majors];
  for (let d = first; d < domain[1]; d++) {
    logMinor.forEach((m) => { if (d + m > domain[0] && d + m < domain[1]) yTicks.push(d + m); });
  }
  const xTicks: number[] = [...lonTicks];
  if (minorStep) for (let l = minorStep; l < 360; l += minorStep) if (l % 60) xTicks.push(l);

  const leftTick = (p: any) => {
    const v = p.payload.value;
    const label = labels[v];
    return (
      <g key={`l${v}`}>
        <line x1={p.x} x2={p.x + (label ? 8 : 4)} y1={p.y} y2={p.y} stroke="#000" />
        {label && <text x={p.x - 5} y={p.y} textAnchor="end" dominantBaseline="central" fontFamily={SERIF} fontSize={yFont} fill="#000">{label}</text>}
      </g>
    );
  };
  const rightTick = (p: any) => (
    <line key={`r${p.payload.value}`} x1={p.x} x2={p.x - (labels[p.payload.value] ? 8 : 4)} y1={p.y} y2={p.y} stroke="#000" />
  );
  const bottomTick = (p: any) => {
    const i = lonTicks.indexOf(p.payload.value);
    return (
      <g key={`b${p.payload.value}`}>
        <line x1={p.x} x2={p.x} y1={p.y} y2={p.y - (i >= 0 ? 6 : 2)} stroke="#000" />
        {i >= 0 && <text x={p.x} y={p.y + 15} textAnchor="middle" dominantBaseline="central" fontFamily={SERIF} fontSize={23} fill="#000">{lonLabels[i]}</text>}
      </g>
    );
  };
  const topTick = (p: any) => (
    <line key={`t${p.payload.value}`} x1={p.x} x2={p.x} y1={p.y} y2={p.y + (lonTicks.includes(p.payload.value) ? 6 : 2)} stroke="#000" />
  );

  return (
    <div style={{ position: 'absolute', left: x - LEFT, top: y - 14 }}>
      <ComposedChart width={LEFT + w + 14} height={h + 14 + 40} margin={{ top: 14, right: 14, bottom: 0, left: 0 }}>
        <XAxis type="number" dataKey="lon" domain={[0, 360]} ticks={xTicks} interval={0} height={40} tickSize={0} tickMargin={0}
          tickLine={false} axisLine={{ stroke: '#000' }} tick={bottomTick} allowDataOverflow />
        <XAxis xAxisId="top" type="number" orientation="top" domain={[0, 360]} ticks={xTicks} interval={0} height={0} tickSize={0} tickMargin={0}
          tickLine={false} axisLine={{ stroke: '#000' }} tick={topTick} allowDataOverflow />
        <YAxis type="number" domain={domain} reversed ticks={yTicks} interval={0} width={LEFT} tickSize={0} tickMargin={0}
          tickLine={false} axisLine={{ stroke: '#000' }} tick={leftTick} allowDataOverflow />
        <YAxis yAxisId="right" type="number" orientation="right" domain={domain} reversed ticks={yTicks} interval={0} width={0} tickSize={0} tickMargin={0}
          tickLine={false} axisLine={{ stroke: '#000' }} tick={rightTick} allowDataOverflow />
        {layers}
      </ComposedChart>
    </div>
  );
}

const modelLayers = (bands: Pt[][], tags: Tag[], patch: Blob[] | null, bottom: number, top: number) => [
  fill('base', [[0, bottom], [360, bottom]], '#ff0000', top, 'linear'),
  ...bands.map((pts, i) => fill(`f${i}`, pts, bandColors[i], bottom)),
  ...(patch ? [blob('patch', patch, '#0000c0')] : []),
  ...contourSlots.map((i) => contour(`c${i}`, bands[i], '#000')),
  tagLayer(tags, () => '#000'),
];

const aDomain = [-2.08, 2.33];
const aLayers = [
  fill('base', [[0, 2.33], [360, 2.33]], '#ff3030', -2.08, 'linear'),
  blob('blobLeft', aBlobLeft, '#ff6060', BLUE),
  blob('blobMid', aBlobMid, '#ff6060', BLUE),
  blob('blobTail', aBlobTail, '#ff6060', BLUE),
  blob('blobRight', aBlobRight, '#ff6060', BLUE),
  blob('lightMid', aLightMid, '#ff8080'),
  blob('lightMid2', aLightMid2, '#ff8080'),
  blob('lightRight', aLightRight, '#ff8080'),
  blob('paleRight', aPaleRight, '#ffb8b8'),
  fill('top156', aTop156, '#ff0000', -2.08),
  fill('top150', aTop150, '#ff4a00', -2.08),
  fill('top144', aTop144, '#ff8000', -2.08),
  fill('top135', aTop135, '#ffa400', -2.08),
  fill('top126', aTop126, '#ffc400', -2.08),
  fill('top117', aTop117, '#ffe800', -2.08),
  fill('low156', aLow156, '#ff0000', 2.33),
  ...panelA.map((pts, i) => fill(`f${i}`, pts, bandColors[i], 2.33)),
  blob('loop162', aLoop162, 'none', BLUE),
  blob('loop144', aLoop144, 'none', BLUE),
  blob('loop072', aLoop072, 'none', '#fff'),
  fill('black', aBlack, '#000', -2.08, 'linear'),
  ...contourSlots.map((i) => contour(`c${i}`, panelA[i], i <= 5 ? BLUE : '#fff')),
  contour('topLine144', aTopLine144, BLUE),
  contour('topLine144b', aTopLine144b, BLUE),
  contour('topLine126', aTopLine126, BLUE),
  tagLayer(aTags, (t) => (parseFloat(t) >= 1 ? BLUE : '#fff')),
];

const aLabels = { [-2]: '0.01', [-1]: '0.10', 0: '1.00', 1: '10.0', 2: '100.' };
const modelLabels = { [-0.7]: '0.2', 0: '1.0', 1: '10.', 2: '100' };
const modelDomain = [-0.7, 2.3];

function ColorBar() {
  return (
    <div style={{ position: 'absolute', left: 443, top: 80 }}>
      <BarChart width={90} height={318} data={[scaleRow]} barCategoryGap={0} margin={{ top: 14, right: 9, bottom: 14, left: 0 }}>
        <XAxis dataKey="name" hide />
        <YAxis type="number" orientation="right" domain={[0, 1.8]} ticks={scaleTicks} interval={0} width={60} tickSize={0} tickMargin={0}
          axisLine={false} tickLine={false}
          tick={(p: any) => (
            <g key={p.payload.value}>
              <line x1={p.x - 4} x2={p.x} y1={p.y} y2={p.y} stroke="#000" />
              <text x={p.x + 6} y={p.y - 2} dominantBaseline="central" fontFamily={SERIF} fontSize={23.5} fill="#000">
                {scaleLabels[scaleTicks.indexOf(p.payload.value)]}
              </text>
            </g>
          )} />
        {scaleColors.map((c, i) => (
          <Bar key={c} dataKey={`s${i}`} stackId="scale" fill={c} isAnimationActive={false} />
        ))}
      </BarChart>
    </div>
  );
}

export default function App() {
  return (
    <div style={{ position: 'absolute', left: 0, top: 0, width: 910, height: 1287, background: '#fff', overflow: 'hidden' }}>
      <Caption x={281} y={22} size={25}>a. HALOE HF Press. vs Longit.</Caption>
      <Caption x={279} y={55} size={26} spacing={0.9}>Sunrise Feb 20 2000 at 56 N</Caption>
      <Caption x={272} y={541} size={26}>b. HF, Feb 20 2000, Gl96</Caption>
      <Caption x={732} y={540} size={26}>c. HF, Feb 20 2000, Gl96_NH32</Caption>
      <Caption x={273} y={961} size={26}>d. HF, Feb 20 2000, Gl23</Caption>
      <Caption x={725} y={961} size={26}>e. HF, Feb 20 2000, Gl23_NP11</Caption>

      <Panel box={{ x: 85, y: 69, w: 352, h: 348 }} domain={aDomain} labels={aLabels} yFont={22} layers={aLayers} />
      <ColorBar />
      <Panel box={{ x: 102, y: 560, w: 318, h: 250 }} domain={modelDomain} labels={modelLabels} minorStep={15}
        layers={modelLayers(panelB, bTags, null, 2.3, -0.7)} />
      <Panel box={{ x: 560, y: 560, w: 318, h: 250 }} domain={modelDomain} labels={modelLabels} minorStep={15}
        layers={modelLayers(panelC, cTags, cPatch, 2.3, -0.7)} />
      <Panel box={{ x: 97, y: 980, w: 319, h: 250 }} domain={modelDomain} labels={modelLabels} minorStep={15}
        layers={modelLayers(panelD, dTags, dPatch, 2.3, -0.7)} />
      <Panel box={{ x: 552, y: 985, w: 319, h: 250 }} domain={modelDomain} labels={modelLabels} minorStep={15}
        layers={modelLayers(panelE, eTags, ePatch, 2.3, -0.7)} />

      <Caption x={235} y={460}>longitude</Caption>
      <Caption x={249} y={851}>longitude</Caption>
      <Caption x={708} y={851}>longitude</Caption>
      <Caption x={245} y={1269}>longitude</Caption>
      <Caption x={701} y={1275}>longitude</Caption>
      <Caption x={23} y={268} rotate={-90}>{'P  [hPa]'}</Caption>
      <Caption x={52} y={680} rotate={-90}>{'P  [hPa]'}</Caption>
      <Caption x={497} y={680} rotate={-90}>{'P  [hPa]'}</Caption>
      <Caption x={47} y={1095} rotate={-90}>{'P  [hPa]'}</Caption>
      <Caption x={493} y={1115} rotate={-90}>{'P  [hPa]'}</Caption>
    </div>
  );
}
